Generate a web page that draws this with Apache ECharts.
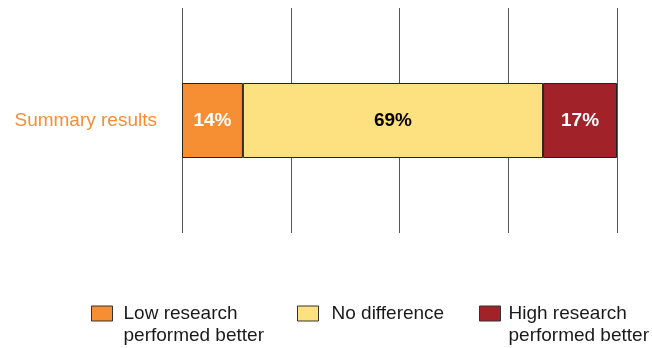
<!DOCTYPE html>
<html>
<head>
<meta charset="utf-8">
<script src="https://cdn.jsdelivr.net/npm/echarts@6/dist/echarts.min.js"></script>
<style>
  html, body { margin: 0; padding: 0; background: #fff; }
  #chart { width: 652px; height: 348px; }
</style>
</head>
<body>
<div id="chart"></div>
<script>
// Share of comparisons by outcome
const categories = ['Summary results'];
const lowBetter = [14];
const noDifference = [69];
const highBetter = [17];
const xTicks = [0, 25, 50, 75, 100];

const seriesNames = ['Low research performed better', 'No difference', 'High research performed better'];
// Legend text split over two lines; a leading blank line keeps the swatch level with the first line
const legendLines = {
  'Low research performed better': '\nLow research\nperformed better',
  'No difference': 'No difference',
  'High research performed better': '\nHigh research\nperformed better'
};
const colors = ['#F68F34', '#FDE07F', '#A12228'];
const labelColors = ['#ffffff', '#000000', '#ffffff'];
const FONT = 'Liberation Sans, Arial, sans-serif';
const LH = 22;
const SWATCH_CENTER = 313.5;

const chart = echarts.init(document.getElementById('chart'), null, { renderer: 'canvas' });

function legendAt(name, left, textGap) {
  const lines = legendLines[name].split('\n').length;
  const blockH = Math.max(lines * LH, 15);
  return {
    data: [name],
    left: left,
    top: SWATCH_CENTER - blockH / 2,
    orient: 'horizontal',
    itemWidth: 21,
    itemHeight: 15,
    itemGap: 0,
    padding: 0,
    selectedMode: false,
    icon: 'rect',
    itemStyle: { borderColor: '#333', borderWidth: 1 },
    formatter: n => legendLines[n],
    textStyle: {
      fontFamily: FONT,
      fontSize: 19,
      color: '#1a1a1a',
      lineHeight: LH,
      padding: [0, 0, 0, textGap - 5]
    }
  };
}

const data = [lowBetter, noDifference, highBetter];

chart.setOption({
  animation: false,
  color: colors,
  grid: { left: 182, right: 35, top: 8, bottom: 115, containLabel: false },
  xAxis: {
    type: 'value',
    min: xTicks[0],
    max: xTicks[xTicks.length - 1],
    interval: xTicks[1] - xTicks[0],
    axisLine: { show: false },
    axisTick: { show: false },
    axisLabel: { show: false },
    splitLine: { show: true, lineStyle: { color: '#555', width: 1 } }
  },
  yAxis: {
    type: 'category',
    data: categories,
    axisLine: { show: false },
    axisTick: { show: false },
    axisLabel: {
      color: '#F68F34',
      fontFamily: FONT,
      fontSize: 19,
      margin: 25
    }
  },
  legend: [
    legendAt(seriesNames[0], 91, 11),
    legendAt(seriesNames[1], 297, 13),
    legendAt(seriesNames[2], 479, 8)
  ],
  series: seriesNames.map((name, i) => ({
    name: name,
    type: 'bar',
    stack: 'total',
    barWidth: 75,
    data: data[i],
    itemStyle: { color: colors[i], borderColor: '#222', borderWidth: 1 },
    label: {
      show: true,
      position: 'inside',
      formatter: p => p.value + '%',
      color: labelColors[i],
      fontFamily: FONT,
      fontWeight: 'bold',
      fontSize: 19
    }
  }))
});
</script>
</body>
</html>
